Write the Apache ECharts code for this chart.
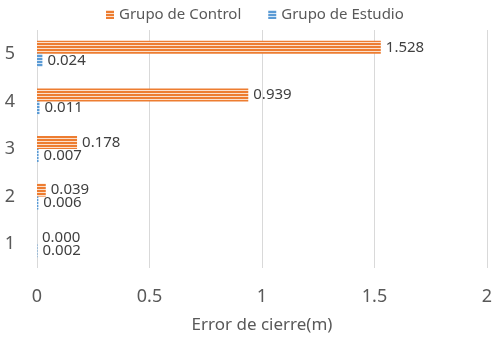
<!DOCTYPE html>
<html><head><meta charset="utf-8">
<script src="https://cdn.jsdelivr.net/npm/echarts@6/dist/echarts.min.js"></script>
<style>html,body{margin:0;padding:0;background:#fff}#c{width:497px;height:346px}</style>
</head><body><div id="c"></div>
<script>
const categories = ['1', '2', '3', '4', '5'];
const controlValues = [0.000, 0.039, 0.178, 0.939, 1.528];
const estudioValues = [0.002, 0.006, 0.007, 0.011, 0.024];
const xTicks = [0, 0.5, 1, 1.5, 2];

function stripes(main, light) {
  const c = document.createElement('canvas');
  c.width = 4; c.height = 3;
  const g = c.getContext('2d');
  g.fillStyle = light; g.fillRect(0, 0, 4, 3);
  g.fillStyle = main; g.fillRect(0, 1, 4, 2);
  return c;
}
const orangeP = { image: stripes('#ED7D31', '#FBE0CD'), repeat: 'repeat' };
const blueP = { image: stripes('#5B9BD5', '#D6E6F5'), repeat: 'repeat' };

const font = 'Noto Sans';
const chart = echarts.init(document.getElementById('c'));
chart.setOption({
  animation: false,
  textStyle: { fontFamily: font },
  legend: {
    data: ['Grupo de Control', 'Grupo de Estudio'],
    top: 2, left: 101, itemWidth: 8, itemHeight: 9, itemGap: 27,
    icon: 'rect',
    textStyle: { fontSize: 15, color: '#595959', fontFamily: font }
  },
  grid: { left: 37, right: 10, top: 30, bottom: 78 },
  xAxis: {
    type: 'value', min: 0, max: 2, interval: 0.5,
    axisLine: { show: false }, axisTick: { show: false },
    splitLine: { show: true, lineStyle: { color: '#D9D9D9', width: 1 } },
    axisLabel: { fontSize: 18, color: '#595959', margin: 20,
      formatter: v => xTicks.includes(v) ? String(v) : '' },
    name: 'Error de cierre(m)', nameLocation: 'middle', nameGap: 49,
    nameTextStyle: { fontSize: 17, color: '#595959' }
  },
  yAxis: {
    type: 'category', data: categories,
    axisLine: { show: false }, axisTick: { show: false },
    axisLabel: { fontSize: 18, color: '#595959', margin: 22 }
  },
  series: [
    {
      name: 'Grupo de Control', type: 'bar', data: controlValues,
      barWidth: 13, barGap: '0%',
      itemStyle: { color: orangeP },
      label: { show: true, position: 'right', distance: 5, fontSize: 15, color: '#404040',
        formatter: p => p.value.toFixed(3) }
    },
    {
      name: 'Grupo de Estudio', type: 'bar', data: estudioValues,
      barWidth: 13, barGap: '0%',
      itemStyle: { color: blueP },
      label: { show: true, position: 'right', distance: 5, fontSize: 15, color: '#404040',
        formatter: p => p.value.toFixed(3) }
    }
  ]
});
</script></body></html>
